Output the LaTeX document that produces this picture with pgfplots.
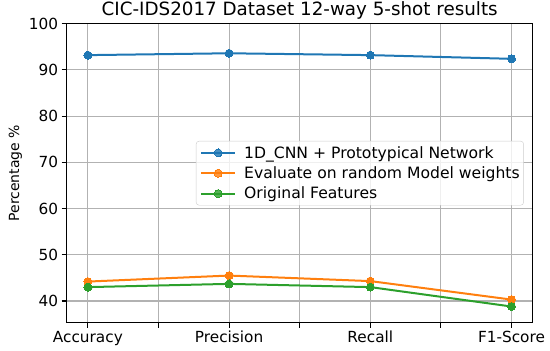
\documentclass[border=0pt]{standalone}
\usepackage{fontspec}
\setmainfont{DejaVu Sans}
\usepackage{pgfplots}
\pgfplotsset{compat=1.18}
\definecolor{tabblue}{HTML}{1F77B4}
\definecolor{taborange}{HTML}{FF7F0E}
\definecolor{tabgreen}{HTML}{2CA02C}
\begin{document}
\begin{tikzpicture}
\begin{axis}[
  scale only axis, width=466pt, height=299pt,
  xmin=-0.15, xmax=3.15, ymin=35.3, ymax=100,
  xtick={0,0.5,1,1.5,2,2.5,3}, xticklabels={Accuracy,,Precision,,Recall,,F1-Score},
  ytick={40,50,60,70,80,90,100},
  grid=major,
  major grid style={color=black!30, line width=1.1pt},
  tick align=outside, tick pos=left,
  major tick length=5pt,
  every tick/.style={black, line width=1.1pt},
  axis line style={line width=1.1pt},
  ticklabel style={font=\fontsize{15.3}{17}\selectfont},
  /pgf/number format/assume math mode=true,
  title={CIC-IDS2017 Dataset 12-way 5-shot results},
  title style={font=\fontsize{18.3}{21}\selectfont, yshift=-5.5pt},
  ylabel={Percentage \%},
  ylabel style={font=\fontsize{14}{16}\selectfont},
  legend style={at={(0.981,0.5)}, anchor=east, font=\fontsize{15.6}{18}\selectfont,
    draw=black!20, rounded corners=3pt, fill=white, fill opacity=0.8, text opacity=1,
    inner xsep=2pt, inner ysep=3pt, row sep=3pt},
  legend cell align=left,
  legend image code/.code={\draw[mark repeat=2,mark phase=2] plot coordinates {(2pt,0pt)(19pt,0pt)(36pt,0pt)};\path (0pt,0pt) (42pt,0pt);},
  every axis plot/.append style={line width=2pt, mark=*, mark size=4pt},
]
\addplot[color=tabblue, mark options={fill=tabblue, line width=0pt}] coordinates {(0,93.2) (1,93.6) (2,93.2) (3,92.4)};
\addlegendentry{1D\_CNN + Prototypical Network}
\addplot[color=taborange, mark options={fill=taborange, line width=0pt}] coordinates {(0,44.2) (1,45.5) (2,44.3) (3,40.3)};
\addlegendentry{Evaluate on random Model weights}
\addplot[color=tabgreen, mark options={fill=tabgreen, line width=0pt}] coordinates {(0,43.0) (1,43.7) (2,43.0) (3,38.8)};
\addlegendentry{Original Features}
\end{axis}
\pgfresetboundingbox
\path[use as bounding box] (current axis.south west) ++(-66.7pt,-28.3pt) rectangle ++(550pt,351pt);
\end{tikzpicture}
\end{document}
